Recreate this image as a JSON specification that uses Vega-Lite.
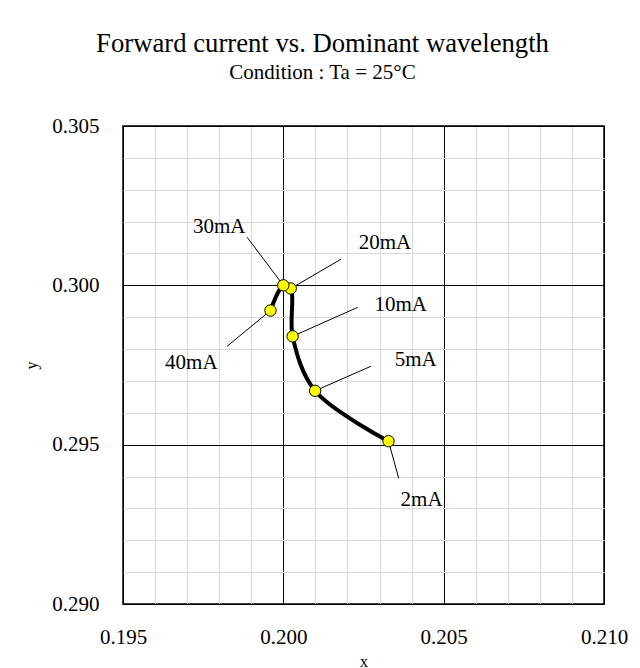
{
  "$schema": "https://vega.github.io/schema/vega-lite/v6.json",
  "width": 481,
  "height": 478,
  "autosize": {"type": "none"},
  "padding": {"left": 123, "top": 126, "right": 36, "bottom": 64},
  "background": "white",
  "config": {
    "view": {"stroke": "#000000", "strokeWidth": 1.5},
    "font": "Liberation Serif"
  },
  "title": {
    "text": "Forward current vs. Dominant wavelength",
    "subtitle": "Condition : Ta = 25°C",
    "font": "Liberation Serif",
    "fontSize": 26.7,
    "fontWeight": "normal",
    "color": "#000000",
    "subtitleFont": "Liberation Serif",
    "subtitleFontSize": 21,
    "subtitleColor": "#000000",
    "subtitlePadding": 4,
    "anchor": "middle",
    "dx": -41,
    "offset": 32
  },
  "data": {
    "values": [
      {"current": 2, "label": "2mA", "x": 0.20328, "y": 0.29511, "lx": 0.20431, "ly": 0.29325, "ex": 0.20360, "ey": 0.29394},
      {"current": 5, "label": "5mA", "x": 0.20099, "y": 0.29669, "lx": 0.20413, "ly": 0.29765, "ex": 0.20273, "ey": 0.29746},
      {"current": 10, "label": "10mA", "x": 0.20029, "y": 0.29840, "lx": 0.20366, "ly": 0.29937, "ex": 0.20232, "ey": 0.29931},
      {"current": 20, "label": "20mA", "x": 0.20023, "y": 0.29990, "lx": 0.20317, "ly": 0.30132, "ex": 0.20180, "ey": 0.30082},
      {"current": 30, "label": "30mA", "x": 0.20000, "y": 0.30000, "lx": 0.19800, "ly": 0.30182, "ex": 0.19887, "ey": 0.30151},
      {"current": 40, "label": "40mA", "x": 0.19960, "y": 0.29921, "lx": 0.19713, "ly": 0.29755, "ex": 0.19825, "ey": 0.29809}
    ]
  },
  "layer": [
    {
      "mark": {"type": "rule", "color": "#000000", "strokeWidth": 1},
      "encoding": {
        "x": {
          "field": "ex", "type": "quantitative",
          "scale": {"domain": [0.195, 0.21], "nice": false, "zero": false},
          "axis": {
            "title": "x",
            "titleFont": "Liberation Serif",
            "titleFontSize": 16,
            "titleFontWeight": "normal",
            "titleColor": "#000000",
            "titlePadding": 6,
            "tickCount": 30,
            "values": [0.195, 0.196, 0.197, 0.198, 0.199, 0.2, 0.201, 0.202, 0.203, 0.204, 0.205, 0.206, 0.207, 0.208, 0.209, 0.21],
            "labelExpr": "abs(datum.value * 200 - round(datum.value * 200)) < 0.001 ? format(datum.value, '.3f') : ''",
            "labelFont": "Liberation Serif",
            "labelFontSize": 21,
            "labelColor": "#000000",
            "labelPadding": 22,
            "labelFlush": false,
            "labelOverlap": false,
            "ticks": false,
            "domain": false,
            "grid": true,
            "gridColor": {"condition": {"test": "abs(datum.value * 200 - round(datum.value * 200)) < 0.001", "value": "#000000"}, "value": "#d9d9d9"},
            "gridWidth": 1,
            "gridOpacity": 1
          }
        },
        "y": {
          "field": "ey", "type": "quantitative",
          "scale": {"domain": [0.29, 0.305], "nice": false, "zero": false},
          "axis": {
            "title": "y",
            "titleFont": "Liberation Serif",
            "titleFontSize": 16,
            "titleFontWeight": "normal",
            "titleColor": "#000000",
            "titlePadding": 12,
            "tickCount": 30,
            "values": [0.29, 0.291, 0.292, 0.293, 0.294, 0.295, 0.296, 0.297, 0.298, 0.299, 0.3, 0.301, 0.302, 0.303, 0.304, 0.305],
            "labelExpr": "abs(datum.value * 200 - round(datum.value * 200)) < 0.001 ? format(datum.value, '.3f') : ''",
            "labelFont": "Liberation Serif",
            "labelFontSize": 21,
            "labelColor": "#000000",
            "labelPadding": 24,
            "labelFlush": false,
            "labelOverlap": false,
            "ticks": false,
            "domain": false,
            "grid": true,
            "gridColor": {"condition": {"test": "abs(datum.value * 200 - round(datum.value * 200)) < 0.001", "value": "#000000"}, "value": "#d9d9d9"},
            "gridWidth": 1,
            "gridOpacity": 1
          }
        },
        "x2": {"field": "x"},
        "y2": {"field": "y"}
      }
    },
    {
      "mark": {"type": "line", "interpolate": "catmull-rom", "color": "#000000", "strokeWidth": 4},
      "encoding": {
        "x": {"field": "x", "type": "quantitative"},
        "y": {"field": "y", "type": "quantitative"},
        "order": {"field": "current", "type": "quantitative"}
      }
    },
    {
      "mark": {"type": "point", "shape": "circle", "filled": true, "fill": "#ffff00", "stroke": "#000000", "strokeWidth": 1, "size": 130, "opacity": 1},
      "encoding": {
        "x": {"field": "x", "type": "quantitative"},
        "y": {"field": "y", "type": "quantitative"},
        "order": {"field": "current", "type": "quantitative"}
      }
    },
    {
      "mark": {"type": "text", "font": "Liberation Serif", "fontSize": 21, "color": "#000000", "align": "center", "baseline": "middle"},
      "encoding": {
        "x": {"field": "lx", "type": "quantitative"},
        "y": {"field": "ly", "type": "quantitative"},
        "text": {"field": "label"}
      }
    }
  ]
}
